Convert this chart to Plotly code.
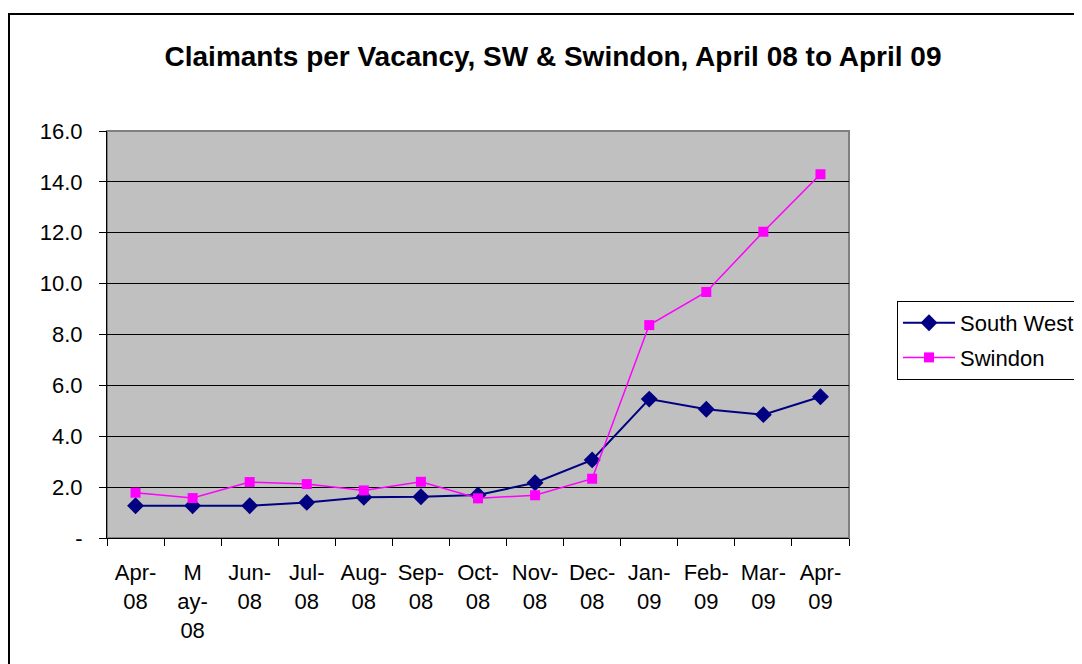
import plotly.graph_objects as go

months = ["Apr-08", "May-08", "Jun-08", "Jul-08", "Aug-08", "Sep-08", "Oct-08",
          "Nov-08", "Dec-08", "Jan-09", "Feb-09", "Mar-09", "Apr-09"]
month_labels = ["Apr-<br>08", "M<br>ay-<br>08", "Jun-<br>08", "Jul-<br>08", "Aug-<br>08",
                "Sep-<br>08", "Oct-<br>08", "Nov-<br>08", "Dec-<br>08", "Jan-<br>09",
                "Feb-<br>09", "Mar-<br>09", "Apr-<br>09"]
south_west = [1.27, 1.27, 1.27, 1.4, 1.6, 1.62, 1.69, 2.17, 3.07, 5.46, 5.06, 4.85, 5.55]
swindon = [1.78, 1.57, 2.2, 2.12, 1.87, 2.21, 1.56, 1.68, 2.33, 8.37, 9.67, 12.04, 14.3]
y_ticks = [0, 2, 4, 6, 8, 10, 12, 14, 16]
y_tick_labels = ["-", "2.0", "4.0", "6.0", "8.0", "10.0", "12.0", "14.0", "16.0"]

FONT = "Liberation Sans, Arial, sans-serif"

fig = go.Figure()
fig.add_trace(go.Scatter(
    x=months, y=south_west, name="South West", mode="lines+markers",
    line=dict(color="#000080", width=2),
    marker=dict(symbol="diamond", size=13, color="#000080"),
    legendgroup="a"))
fig.add_trace(go.Scatter(
    x=months, y=swindon, name="Swindon", mode="lines+markers",
    line=dict(color="#FF00FF", width=1.5),
    marker=dict(symbol="square", size=10, color="#FF00FF"),
    legendgroup="b"))

# page has an 8px body margin, so the figure is 8px smaller and shifted
fig.update_layout(
    width=1074, height=656,
    margin=dict(l=99, r=233, t=123, b=126, autoexpand=False),
    paper_bgcolor="white", plot_bgcolor="#C0C0C0",
    font=dict(family=FONT, size=22, color="black"),
    title=dict(text="<b>Claimants per Vacancy, SW &amp; Swindon, April 08 to April 09</b>",
               x=545 / 1074, xanchor="center", y=1 - 48 / 656, yanchor="middle",
               font=dict(family=FONT, size=28, color="black")),
    showlegend=True,
    legend=dict(x=(897 - 107) / 742, xanchor="left", y=(538 - 301) / 407, yanchor="top",
                bgcolor="white", bordercolor="black", borderwidth=1,
                font=dict(family=FONT, size=22, color="black"),
                traceorder="grouped", tracegroupgap=3, itemwidth=52),
    xaxis=dict(tickmode="array", tickvals=months, ticktext=month_labels, tickangle=0,
               range=[-0.5, len(months) - 0.5],
               showgrid=False, showline=True, linecolor="black", linewidth=1,
               ticks="outside", tickson="boundaries", ticklen=7, tickcolor="black",
               ticklabelstandoff=15, zeroline=False, fixedrange=True, automargin=False),
    yaxis=dict(range=[0, 16], tickmode="array", tickvals=y_ticks, ticktext=y_tick_labels,
               showgrid=True, gridcolor="black", gridwidth=1,
               showline=True, linecolor="black", linewidth=1,
               ticks="outside", ticklen=7, tickcolor="black",
               ticklabelstandoff=12, zeroline=False, fixedrange=True, automargin=False),
    shapes=[
        dict(type="rect", xref="paper", yref="paper", x0=0, x1=1, y0=0, y1=1,
             line=dict(color="#808080", width=2), fillcolor="rgba(0,0,0,0)", layer="below"),
        dict(type="rect", xref="paper", yref="paper",
             x0=(9 - 107) / 742, x1=1.6, y0=-0.6, y1=(538 - 14) / 407,
             line=dict(color="black", width=2), fillcolor="rgba(0,0,0,0)"),
    ],
)

fig.write_html("out.html")
